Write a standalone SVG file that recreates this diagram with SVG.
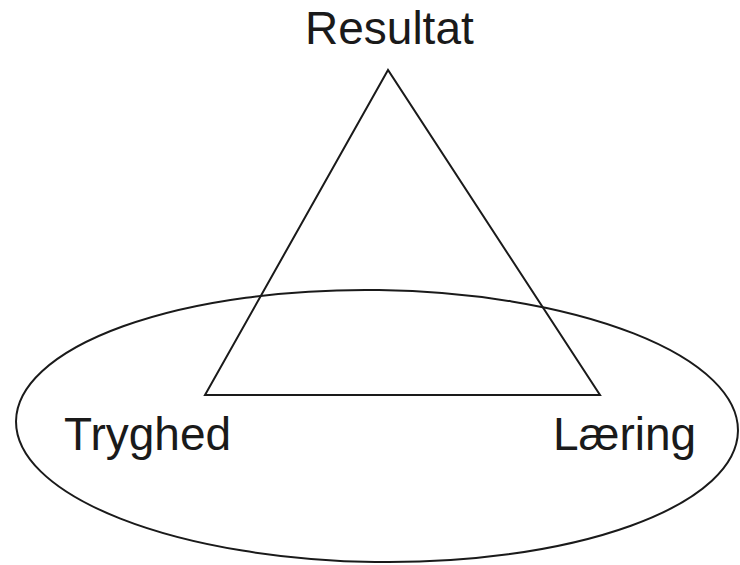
<svg xmlns="http://www.w3.org/2000/svg" width="740" height="565" viewBox="0 0 740 565">
<style>
.shape{fill:none;stroke:#1a1a1a;stroke-width:2}
.lbl{font-family:"Liberation Sans",Arial,sans-serif;font-size:46px;fill:#1a1a1a}
</style>
<rect width="740" height="565" fill="#fff"/>
<g id="connectors">
<polygon class="shape" points="388,70 205,395 600,395"/>
</g>
<g id="ellipse"><ellipse class="shape" cx="377" cy="426" rx="361" ry="136" transform="rotate(0.8 377 426)"/></g>
<g id="resultat"><text class="lbl" x="305" y="44">Resultat</text></g>
<g id="tryghed"><text class="lbl" x="64" y="450">Tryghed</text></g>
<g id="laering"><text class="lbl" x="553" y="450">Læring</text></g>
</svg>
